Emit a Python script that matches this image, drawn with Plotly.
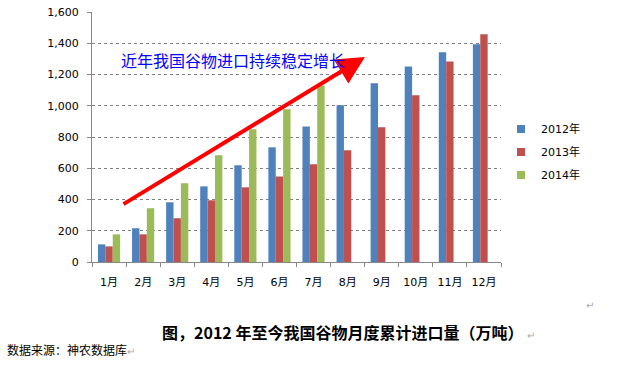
import plotly.graph_objects as go

months = ["1月", "2月", "3月", "4月", "5月", "6月", "7月", "8月", "9月", "10月", "11月", "12月"]
series_names = ["2012年", "2013年", "2014年"]
v2012 = [113, 216, 382, 484, 619, 734, 868, 1003, 1144, 1252, 1342, 1393]
v2013 = [100, 177, 280, 395, 478, 548, 625, 715, 862, 1067, 1284, 1457]
v2014 = [177, 344, 504, 683, 849, 977, 1130, None, None, None, None, None]
colors = ["#4F81BD", "#C0504D", "#9BBB59"]
y_ticks = [0, 200, 400, 600, 800, 1000, 1200, 1400, 1600]

annot_text = "近年我国谷物进口持续稳定增长"
title_text = "图，2012 年至今我国谷物月度累计进口量（万吨）"
source_text = "数据来源：神农数据库"

fig = go.Figure()
for name, vals, c in zip(series_names, [v2012, v2013, v2014], colors):
    fig.add_trace(go.Bar(x=months, y=vals, name=name, marker_color=c,
                         marker_line_width=0, showlegend=False))
for name, c in zip(series_names, colors):
    fig.add_trace(go.Scatter(x=[None], y=[None], mode="markers", name=name,
                             legendgroup=name,
                             marker=dict(symbol="square", size=8, color=c)))

font_main = "DejaVu Sans, Noto Sans CJK SC"
fig.update_layout(
    width=620, height=365,
    margin=dict(l=92, r=119, t=12, b=103),
    paper_bgcolor="white", plot_bgcolor="white",
    barmode="group", bargap=0.35, bargroupgap=0,
    font=dict(family=font_main, size=11, color="#000000"),
    legend=dict(x=1.0, xanchor="left", y=0.44, yanchor="middle",
                font=dict(size=11, family=font_main), itemwidth=30,
                tracegroupgap=4, bgcolor="rgba(0,0,0,0)"),
    showlegend=True,
)
fig.update_xaxes(
    type="category", showline=True, linecolor="#888888", linewidth=1,
    ticks="outside", tickson="boundaries", ticklen=4, tickcolor="#888888",
    showgrid=False, ticklabelstandoff=10, automargin=False,
    tickfont=dict(size=11, family=font_main),
)
fig.update_yaxes(
    range=[0, 1600], tickvals=y_ticks, tickformat=",d",
    showline=True, linecolor="#888888", linewidth=1,
    ticks="outside", ticklen=4, tickcolor="#888888",
    showgrid=True, gridcolor="#808080", griddash="dot", gridwidth=1,
    zeroline=False, ticklabelstandoff=6, automargin=False,
    tickfont=dict(size=11, family="DejaVu Sans"),
)

# arrow
fig.add_annotation(x=(365 - 92) / 409, y=(262 - 57) / 250, xref="paper", yref="paper",
                   ax=-243, ay=148, axref="pixel", ayref="pixel", text="",
                   showarrow=True, arrowhead=2, arrowsize=1.4, arrowwidth=4,
                   arrowcolor="#FF0000", standoff=0, startstandoff=0)
fig.add_annotation(x=(119 - 92) / 409, y=(262 - 60) / 250, xref="paper", yref="paper",
                   xanchor="left", yanchor="middle", showarrow=False,
                   text=annot_text,
                   font=dict(size=16, color="#0000FF", family="Noto Sans CJK SC"))
fig.add_annotation(x=(348 - 92) / 409, y=(262 - 332) / 250, xref="paper", yref="paper",
                   xanchor="center", yanchor="middle", showarrow=False,
                   text="<b>" + title_text + "</b> <span style='color:#aaaaaa;font-size:10px'>↵</span>",
                   font=dict(size=16, color="#000000", family="Noto Sans CJK SC"))
fig.add_annotation(x=(5 - 92) / 409, y=(262 - 350) / 250, xref="paper", yref="paper",
                   xanchor="left", yanchor="middle", showarrow=False,
                   text=source_text + "<span style='color:#aaaaaa;font-size:10px'>↵</span>",
                   font=dict(size=12, color="#000000", family="Noto Sans CJK SC"))
fig.add_annotation(x=(590 - 92) / 409, y=(262 - 305) / 250, xref="paper", yref="paper",
                   xanchor="center", yanchor="middle", showarrow=False,
                   text="↵", font=dict(size=10, color="#aaaaaa"))

fig.write_html("out.html", config={"displayModeBar": False},
               post_script="document.body.style.margin='0';")
